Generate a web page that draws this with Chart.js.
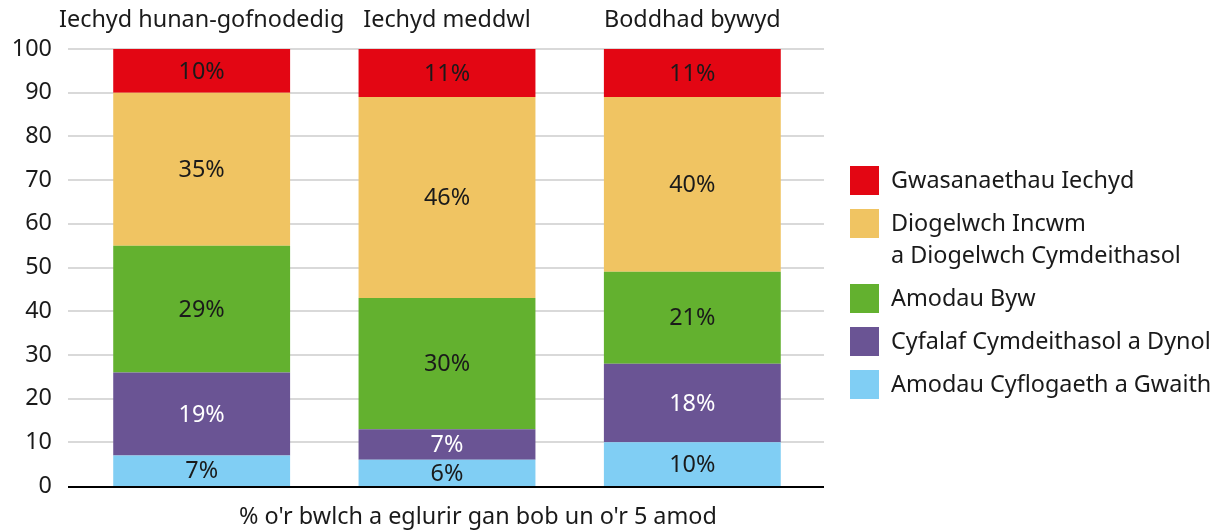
<!DOCTYPE html>
<html>
<head>
<meta charset="utf-8">
<script src="https://cdn.jsdelivr.net/npm/chart.js@4.4.1/dist/chart.umd.min.js"></script>
<style>
    body { margin: 0; background: #fff; }
    .wrap { position: relative; width: 1222px; height: 530px; font-family: "Noto Sans", sans-serif; color: #1a1a1a; }
    #chart { position: absolute; left: 0; top: 0; }
    .legend { position: absolute; left: 850px; top: 163px; }
    .legend-item { display: flex; align-items: flex-start; margin-bottom: 11px; }
    .legend-box { width: 29px; height: 29px; margin-top: 3px; margin-right: 12px; flex: none; }
    .legend-text { font-size: 23.4px; line-height: 32px; white-space: nowrap; }
</style>
</head>
<body>
<div class="wrap">
    <canvas id="chart" width="1222" height="530"></canvas>
    <div class="legend" id="legend"></div>
</div>
<script>
const categories = ['Iechyd hunan-gofnodedig', 'Iechyd meddwl', 'Boddhad bywyd'];

// stacked from the bottom up
const employment = [7, 6, 10];
const socialCapital = [19, 7, 18];
const livingConditions = [29, 30, 21];
const incomeSecurity = [35, 46, 40];
const healthServices = [10, 11, 11];

const seriesNames = [
    'Amodau Cyflogaeth a Gwaith',
    'Cyfalaf Cymdeithasol a Dynol',
    'Amodau Byw',
    ['Diogelwch Incwm', 'a Diogelwch Cymdeithasol'],
    'Gwasanaethau Iechyd'
];
const seriesColors = ['#80cef4', '#6a5494', '#63b12f', '#f0c462', '#e30613'];
const labelColors = ['#1a1a1a', '#ffffff', '#1a1a1a', '#1a1a1a', '#1a1a1a'];

const yMin = 0;
const yMax = 100;
const yStep = 10;
const xTitle = "% o'r bwlch a eglurir gan bob un o'r 5 amod";

const textColor = '#1a1a1a';
const fontFamily = '"Noto Sans", sans-serif';
const fontSize = 23.4;

const seriesValues = [employment, socialCapital, livingConditions, incomeSecurity, healthServices];

// gridlines run a bit past the bars on both sides
const gridPlugin = {
    id: 'gridLines',
    beforeDatasetsDraw(chart) {
        const { ctx, chartArea, scales } = chart;
        ctx.save();
        ctx.lineWidth = 2;
        ctx.strokeStyle = '#d9d9d9';
        scales.y.ticks.forEach(t => {
            if (t.value === yMin) return;
            const y = Math.round(scales.y.getPixelForValue(t.value));
            ctx.beginPath();
            ctx.moveTo(chartArea.left - 11, y);
            ctx.lineTo(chartArea.right + 9, y);
            ctx.stroke();
        });
        ctx.restore();
    },
    afterDatasetsDraw(chart) {
        const { ctx, chartArea, scales } = chart;
        const y = Math.round(scales.y.getPixelForValue(yMin)) + 1;
        ctx.save();
        ctx.lineWidth = 2;
        ctx.strokeStyle = '#000';
        ctx.beginPath();
        ctx.moveTo(chartArea.left - 11, y);
        ctx.lineTo(chartArea.right + 9, y);
        ctx.stroke();
        ctx.restore();
    }
};

// percentage labels inside each segment
const valueLabels = {
    id: 'valueLabels',
    afterDatasetsDraw(chart) {
        const { ctx } = chart;
        ctx.save();
        ctx.font = fontSize + 'px ' + fontFamily;
        ctx.textAlign = 'center';
        ctx.textBaseline = 'middle';
        chart.data.datasets.forEach((ds, i) => {
            const meta = chart.getDatasetMeta(i);
            meta.data.forEach((bar, j) => {
                ctx.fillStyle = labelColors[i];
                ctx.fillText(ds.data[j] + '%', bar.x, (bar.y + bar.base) / 2 + 1);
            });
        });
        ctx.restore();
    }
};

const bottomTitle = {
    id: 'bottomTitle',
    afterDraw(chart) {
        const { ctx, chartArea } = chart;
        ctx.save();
        ctx.font = fontSize + 'px ' + fontFamily;
        ctx.fillStyle = textColor;
        ctx.textAlign = 'center';
        ctx.textBaseline = 'middle';
        ctx.fillText(xTitle, (chartArea.left + chartArea.right) / 2 + 31, chartArea.bottom + 31);
        ctx.restore();
    }
};

function buildLegend() {
    const legend = document.getElementById('legend');
    const order = seriesNames.map((_, i) => i).reverse();
    legend.innerHTML = order.map(i => {
        const name = Array.isArray(seriesNames[i]) ? seriesNames[i].join('<br>') : seriesNames[i];
        return `
            <div class="legend-item">
                <div class="legend-box" style="background:${seriesColors[i]}"></div>
                <div class="legend-text">${name}</div>
            </div>`;
    }).join('');
}

function initChart() {
    const ctx = document.getElementById('chart').getContext('2d');
    new Chart(ctx, {
        type: 'bar',
        data: {
            labels: categories,
            datasets: seriesValues.map((vals, i) => ({
                label: Array.isArray(seriesNames[i]) ? seriesNames[i].join(' ') : seriesNames[i],
                data: vals,
                backgroundColor: seriesColors[i],
                borderWidth: 0,
                categoryPercentage: 1,
                barPercentage: 0.721
            }))
        },
        options: {
            responsive: false,
            animation: false,
            layout: { padding: { left: 0, right: 407, top: 0, bottom: 44 } },
            plugins: {
                legend: { display: false },
                tooltip: { enabled: false }
            },
            scales: {
                x: {
                    position: 'top',
                    stacked: true,
                    grid: { display: false, drawTicks: false },
                    border: { display: false },
                    ticks: {
                        color: textColor,
                        font: { family: fontFamily, size: fontSize },
                        padding: 15,
                        maxRotation: 0,
                        autoSkip: false
                    },
                    afterFit: scale => { scale.height = 49; }
                },
                y: {
                    stacked: true,
                    min: yMin,
                    max: yMax,
                    grid: { display: false, drawTicks: false },
                    border: { display: false },
                    ticks: {
                        stepSize: yStep,
                        color: textColor,
                        font: { family: fontFamily, size: fontSize },
                        padding: 27
                    },
                    afterFit: scale => { scale.width = 79; }
                }
            }
        },
        plugins: [gridPlugin, valueLabels, bottomTitle]
    });
}

document.addEventListener('DOMContentLoaded', function() {
    buildLegend();
    initChart();
});
</script>
</body>
</html>
